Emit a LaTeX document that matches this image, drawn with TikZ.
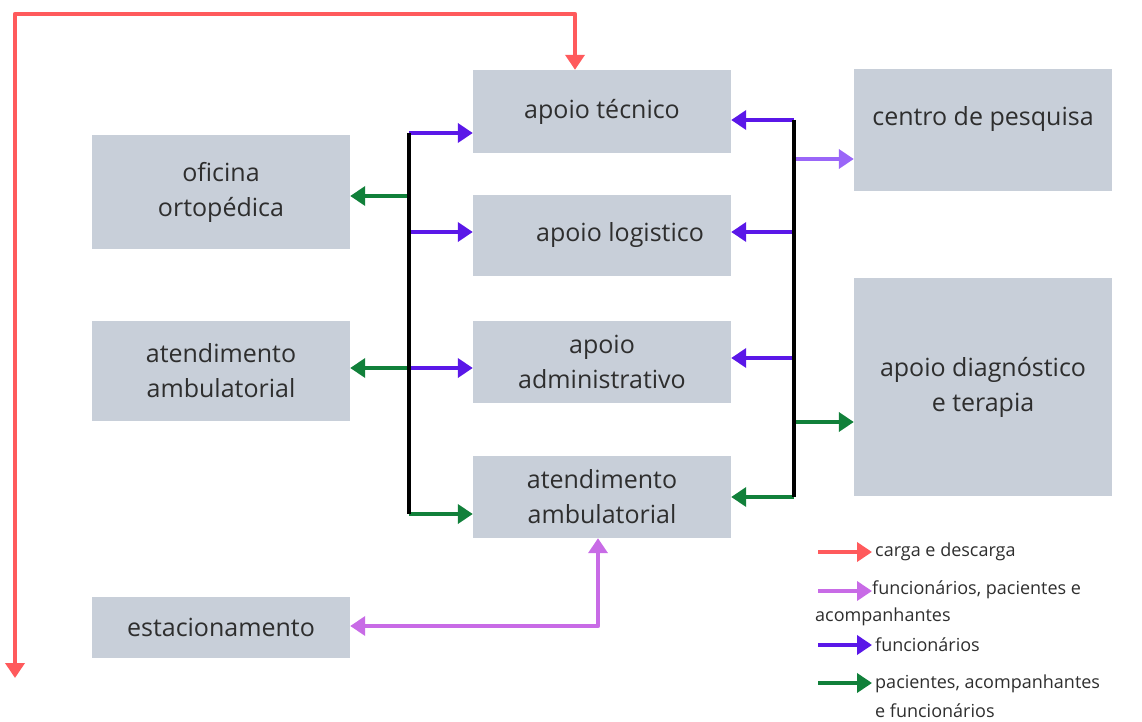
\documentclass[tikz,border=0pt]{standalone}
\usepackage{fontspec}
\setmainfont{Open Sans}
\usetikzlibrary{arrows.meta}
\definecolor{boxgray}{HTML}{C8CFD9}
\definecolor{txt}{HTML}{2E2E2E}
\definecolor{cred}{HTML}{FF5A5C}
\definecolor{cmag}{HTML}{C86BE6}
\definecolor{cpur}{HTML}{5A17E8}
\definecolor{clpur}{HTML}{9A66F8}
\definecolor{cgrn}{HTML}{11803A}
\begin{document}
\begin{tikzpicture}[x=1pt,y=-1pt,
  box/.style={fill=boxgray, minimum width=258pt, align=center, inner sep=0pt,
    font=\fontsize{25}{35}\selectfont, text=txt},
  boxtext/.style={align=center, font=\fontsize{25}{35}\selectfont, text=txt},
  legtext/.style={anchor=west, inner sep=0pt, font=\fontsize{18}{21}\selectfont, text=txt},
  bus/.style={line width=4.5pt, black},
  flow/.style={line width=4.5pt, -{Triangle[length=15pt,width=19pt]}},
  flowboth/.style={line width=4.5pt, {Triangle[length=15pt,width=19pt]}-{Triangle[length=15pt,width=19pt]}},
]
\useasboundingbox (0,0) rectangle (1142,722);

% boxes
\node[box, minimum height=83] (tec) at (602,111.5) {apoio técnico};
\node[box, minimum height=81] (log) at (602,235.5) {\hspace*{36pt}apoio logistico};
\node[box, minimum height=82] (adm) at (602,362) {apoio\\administrativo};
\node[box, minimum height=82] (amb) at (602,497) {atendimento\\ambulatorial};
\node[box, minimum height=114] (ofi) at (221,192) {oficina\\ortopédica};
\node[box, minimum height=100] (atl) at (221,371) {atendimento\\ambulatorial};
\node[box, minimum height=61] (est) at (221,627.5) {estacionamento};
\node[box, minimum height=122, label={[boxtext, yshift=11pt]center:centro de pesquisa}] (cp) at (983,130) {};
\node[box, minimum height=218] (dg) at (983,387) {apoio diagnóstico\\e terapia};

% left bus
\coordinate (L1) at (409,133);
\coordinate (L2) at (409,196);
\coordinate (L3) at (409,232);
\coordinate (L4) at (409,368);
\coordinate (L5) at (409,514);
\draw[flow, cpur] (L1) -- (tec.west |- L1);
\draw[flow, cgrn] (L2) -- (ofi.east |- L2);
\draw[flow, cpur] (L3) -- (log.west |- L3);
\draw[flow, cgrn] (L4) -- (atl.east |- L4);
\draw[flow, cpur] (L4) -- (adm.west |- L4);
\draw[flow, cgrn] (L5) -- (amb.west |- L5);
\draw[bus] (L1) -- (L5);

% right bus
\coordinate (R1) at (794,120);
\coordinate (R2) at (794,159);
\coordinate (R3) at (794,232);
\coordinate (R4) at (794,358);
\coordinate (R5) at (794,422);
\coordinate (R6) at (794,497);
\draw[flow, cpur] (R1) -- (tec.east |- R1);
\draw[flow, clpur] (R2) -- (cp.west |- R2);
\draw[flow, cpur] (R3) -- (log.east |- R3);
\draw[flow, cpur] (R4) -- (adm.east |- R4);
\draw[flow, cgrn] (R5) -- (dg.west |- R5);
\draw[flow, cgrn] (R6) -- (amb.east |- R6);
\draw[bus] (R1) -- (R6);

% red loop
\coordinate (r1) at (575,14);
\coordinate (r2) at (15,14);
\coordinate (r3) at (15,678);
\draw[flowboth, cred, line join=round] (r1 |- tec.north) -- (r1) -- (r2) -- (r3);

% magenta
\coordinate (m1) at (598,626);
\draw[flowboth, cmag, line join=round] (m1 |- amb.south) -- (m1) -- (est.east |- m1);

% legend
\coordinate (g1a) at (818,552); \coordinate (g1b) at (872,552);
\coordinate (g2a) at (818,591); \coordinate (g2b) at (872,591);
\coordinate (g3a) at (818,645); \coordinate (g3b) at (872,645);
\coordinate (g4a) at (818,683); \coordinate (g4b) at (872,683);
\draw[flow, cred] (g1a) -- (g1b);
\draw[flow, cmag] (g2a) -- (g2b);
\draw[flow, cpur] (g3a) -- (g3b);
\draw[flow, cgrn] (g4a) -- (g4b);
\node[legtext] (t1) at (875,552) {carga e descarga};
\node[legtext] (t2) at (872,590) {funcionários, pacientes e};
\node[legtext] (t2b) at (815,617) {acompanhantes};
\node[legtext] (t3) at (875,645) {funcionários};
\node[legtext] (t4) at (875,684) {pacientes, acompanhantes};
\node[legtext] (t4b) at (875,711) {e funcionários};
\end{tikzpicture}
\end{document}
